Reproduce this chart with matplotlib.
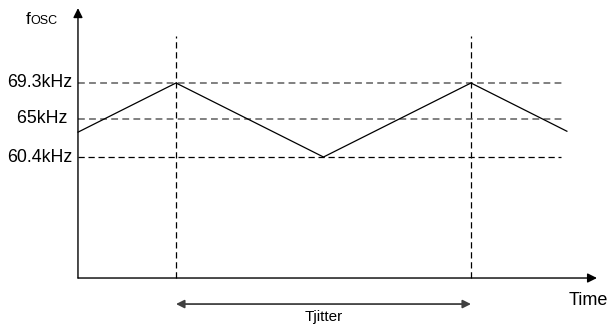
import matplotlib
matplotlib.use("Agg")
import matplotlib.pyplot as plt

plt.rcParams['font.family'] = ['Liberation Sans', 'DejaVu Sans']

# Data (schematic frequency jitter waveform)
t_points = [0.336, 1.0, 2.0, 3.0, 3.65]          # time units
f_points = [63.39, 69.3, 60.4, 69.3, 63.5]        # kHz
level_values = [69.3, 65.0, 60.4]
level_labels = ["69.3kHz", "65kHz ", "60.4kHz"]
level_colors = ["#808080", "#808080", "#000000"]
marker_times = [1.0, 3.0]

fig = plt.figure(figsize=(6.07, 3.26), dpi=100)
ax = fig.add_axes([0, 0, 1, 1])
ax.set_xlim(-0.193, 3.922)
ax.set_ylim(40.08, 79.28)
ax.axis('off')

t0 = 0.3356
f_axis = 45.85

# axes with arrows
ax.annotate("", xy=(t0, 78.3), xytext=(t0, f_axis),
            arrowprops=dict(arrowstyle='-|>', color='black', lw=1.0,
                            mutation_scale=14, shrinkA=0, shrinkB=0))
ax.annotate("", xy=(3.854, f_axis), xytext=(t0, f_axis),
            arrowprops=dict(arrowstyle='-|>', color='black', lw=1.0,
                            mutation_scale=14, shrinkA=0, shrinkB=0))

# horizontal level lines
for v, lab, c in zip(level_values, level_labels, level_colors):
    if c == "#000000":
        ax.plot([t0, 3.61], [v, v], color=c, lw=0.9, linestyle=(0, (5, 3)))
    else:
        ax.plot([t0, 3.624], [v, v], color=c, lw=1.4, linestyle=(0, (3.5, 2.2)))
    ax.text(t0 - 0.04, v, lab, ha='right', va='center', fontsize=12.8)

# vertical marker lines
for tm in marker_times:
    ax.plot([tm, tm], [f_axis, 74.95], color='black', lw=0.9, linestyle=(0, (5, 3)))

# waveform
ax.plot(t_points, f_points, color='black', lw=0.9)

# Tjitter double arrow
ax.annotate("", xy=(marker_times[0], 42.72), xytext=(marker_times[1], 42.72),
            arrowprops=dict(arrowstyle='<|-|>', color='#404040', lw=1.3,
                            mutation_scale=12, shrinkA=0, shrinkB=0))
ax.text(2.0, 40.7, "Tjitter", ha='center', va='baseline', fontsize=11)

# labels
ax.text(3.664, 42.6, "Time", ha='left', va='baseline', fontsize=13)
ax.text(-0.018, 76.4, "f", ha='left', va='baseline', fontsize=12.5)
ax.text(0.012, 76.35, "OSC", ha='left', va='baseline', fontsize=9)

fig.savefig("out.png", dpi=100)
